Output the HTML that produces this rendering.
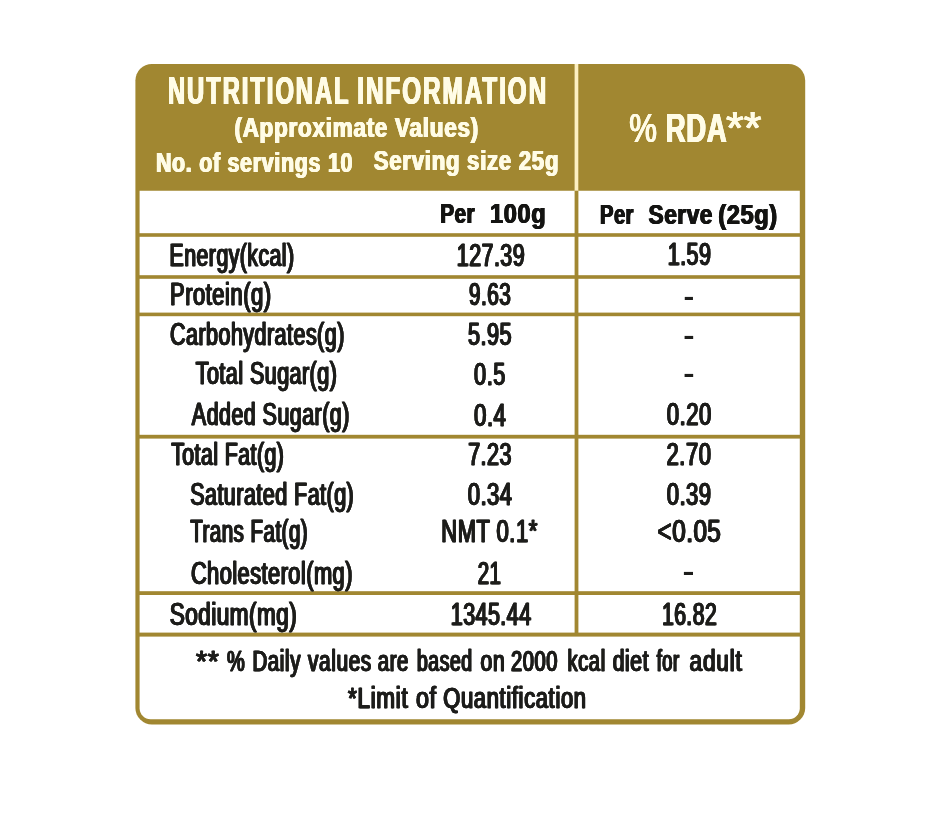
<!DOCTYPE html>
<html lang="en"><head><meta charset="utf-8"><title>Nutritional Information</title>
<style>html,body{margin:0;padding:0;background:#fff}body{width:940px;height:819px;overflow:hidden}svg{display:block}text{font-family:"Liberation Sans",sans-serif;white-space:pre}</style></head><body>
<svg width="940" height="819" viewBox="0 0 940 819">
<rect width="940" height="819" fill="#fff"/>
<g style="filter:blur(0.5px)">
<rect x="135.4" y="64.0" width="669.8" height="660.4" rx="16.5" ry="16.5" fill="#a18731"/>
<path d="M139.6 190.8H799.8V708.2A11 11 0 0 1 788.8 719.2H150.6A11 11 0 0 1 139.6 708.2Z" fill="#fff"/>
<rect x="574.6" y="64.0" width="3.7" height="126.8" fill="#fdf0c2"/>
<rect x="574.6" y="190.8" width="3.8" height="443.7" fill="#a18731"/>
<rect x="138.6" y="233.2" width="662.2" height="3.6" fill="#a18731"/>
<rect x="138.6" y="275.2" width="662.2" height="3.6" fill="#a18731"/>
<rect x="138.6" y="312.6" width="662.2" height="3.6" fill="#a18731"/>
<rect x="138.6" y="434.8" width="662.2" height="3.8" fill="#a18731"/>
<rect x="138.6" y="591.2" width="662.2" height="3.8" fill="#a18731"/>
<rect x="138.6" y="632.6" width="662.2" height="4.0" fill="#a18731"/>
<g fill="#fffce6" font-weight="700" letter-spacing="3.2" style="filter:drop-shadow(0.95px 0 0 #fffce6) drop-shadow(-0.95px 0 0 #fffce6)">
<text id="t1a" x="168.5" y="104.0" font-size="38.37" textLength="182.48" lengthAdjust="spacingAndGlyphs">NUTRITIONAL</text>
<text id="t1b" x="357.7" y="104.0" font-size="38.37" textLength="190.99" lengthAdjust="spacingAndGlyphs">INFORMATION</text>
</g>
<g fill="#fffce6" font-weight="700" letter-spacing="0.9" style="filter:drop-shadow(0.75px 0 0 #fffce6) drop-shadow(-0.75px 0 0 #fffce6)">
<text id="t2" x="234.95" y="137.3" font-size="28.05" textLength="244.43" lengthAdjust="spacingAndGlyphs">(Approximate Values)</text>
<text id="t3" x="156.41" y="172.3" font-size="27.18" textLength="197.22" lengthAdjust="spacingAndGlyphs">No. of servings 10</text>
<text id="t4" x="374.27" y="170.4" font-size="27.47" textLength="185.41" lengthAdjust="spacingAndGlyphs">Serving size 25g</text>
<text id="r2" x="666.3" y="141.8" font-size="41.13" textLength="61.42" lengthAdjust="spacingAndGlyphs">RDA</text>
</g>
<g fill="#fffce6" font-weight="400" style="filter:drop-shadow(0.55px 0 0 #fffce6) drop-shadow(-0.55px 0 0 #fffce6)">
<text id="r1" x="629.81" y="141.8" font-size="41.13" textLength="27.64" lengthAdjust="spacingAndGlyphs">%</text>
<text id="r3" x="726.6" y="143.7" font-size="45.5" textLength="35.4" lengthAdjust="spacingAndGlyphs">**</text>
</g>
<g fill="#141412" font-weight="700" letter-spacing="0.7" style="filter:drop-shadow(0.3px 0 0 #141412) drop-shadow(-0.3px 0 0 #141412)">
<text id="c1a" x="440.65" y="222.8" font-size="27.33" textLength="35.07" lengthAdjust="spacingAndGlyphs">Per</text>
<text id="c1b" x="490.59" y="222.8" font-size="27.33" textLength="56.05" lengthAdjust="spacingAndGlyphs">100g</text>
<text id="c2a" x="600.46" y="223.5" font-size="28.2" textLength="33.95" lengthAdjust="spacingAndGlyphs">Per</text>
<text id="c2b" x="648.94" y="223.5" font-size="28.2" textLength="64.62" lengthAdjust="spacingAndGlyphs">Serve</text>
<text id="c2c" x="718.74" y="223.5" font-size="28.2" textLength="59.44" lengthAdjust="spacingAndGlyphs">(25g)</text>
</g>
<g fill="#1d1d1b" font-weight="400" stroke="#1d1d1b" stroke-width="0.3" letter-spacing="0.7" style="filter:drop-shadow(0.55px 0 0 #1d1d1b) drop-shadow(-0.55px 0 0 #1d1d1b)">
<text id="b1" x="170.11" y="265.6" font-size="30.96" textLength="125.01" lengthAdjust="spacingAndGlyphs">Energy(kcal)</text>
<text id="v1" x="457.28" y="266.0" font-size="30.96" textLength="68.33" lengthAdjust="spacingAndGlyphs">127.39</text>
<text id="w1" x="668.25" y="265.4" font-size="30.96" textLength="43.72" lengthAdjust="spacingAndGlyphs">1.59</text>
<text id="b2" x="170.62" y="305.2" font-size="30.96" textLength="101.37" lengthAdjust="spacingAndGlyphs">Protein(g)</text>
<text id="v2" x="469.57" y="305.4" font-size="30.96" textLength="42.01" lengthAdjust="spacingAndGlyphs">9.63</text>
<text id="b3" x="170.6" y="344.8" font-size="30.96" textLength="174.69" lengthAdjust="spacingAndGlyphs">Carbohydrates(g)</text>
<text id="v3" x="468.46" y="345.2" font-size="30.96" textLength="43.98" lengthAdjust="spacingAndGlyphs">5.95</text>
<text id="b4" x="196.19" y="384.4" font-size="30.96" textLength="141.62" lengthAdjust="spacingAndGlyphs">Total Sugar(g)</text>
<text id="v4" x="474.61" y="385.0" font-size="30.96" textLength="31.55" lengthAdjust="spacingAndGlyphs">0.5</text>
<text id="b5" x="192.37" y="425.2" font-size="30.96" textLength="157.94" lengthAdjust="spacingAndGlyphs">Added Sugar(g)</text>
<text id="v5" x="474.53" y="426.0" font-size="30.96" textLength="32.48" lengthAdjust="spacingAndGlyphs">0.4</text>
<text id="w5" x="667.29" y="425.4" font-size="30.96" textLength="45.08" lengthAdjust="spacingAndGlyphs">0.20</text>
<text id="b6" x="171.71" y="464.6" font-size="30.96" textLength="113.21" lengthAdjust="spacingAndGlyphs">Total Fat(g)</text>
<text id="v6" x="468.67" y="465.2" font-size="30.96" textLength="43.81" lengthAdjust="spacingAndGlyphs">7.23</text>
<text id="w6" x="667.12" y="465.0" font-size="30.96" textLength="44.8" lengthAdjust="spacingAndGlyphs">2.70</text>
<text id="b7" x="190.66" y="504.6" font-size="30.96" textLength="164.1" lengthAdjust="spacingAndGlyphs">Saturated Fat(g)</text>
<text id="v7" x="468.2" y="504.8" font-size="30.96" textLength="44.92" lengthAdjust="spacingAndGlyphs">0.34</text>
<text id="w7" x="667.19" y="504.8" font-size="30.96" textLength="44.92" lengthAdjust="spacingAndGlyphs">0.39</text>
<text id="b8" x="190.76" y="542.0" font-size="30.96" textLength="117.86" lengthAdjust="spacingAndGlyphs">Trans Fat(g)</text>
<text id="v8" x="441.78" y="542.4" font-size="30.96" textLength="96.43" lengthAdjust="spacingAndGlyphs">NMT 0.1*</text>
<text id="w8" x="658.0" y="542.0" font-size="30.96" textLength="63.85" lengthAdjust="spacingAndGlyphs">&lt;0.05</text>
<text id="b9" x="191.38" y="584.0" font-size="30.96" textLength="162.07" lengthAdjust="spacingAndGlyphs">Cholesterol(mg)</text>
<text id="v9" x="478.2" y="584.4" font-size="30.96" textLength="23.57" lengthAdjust="spacingAndGlyphs">21</text>
<text id="b10" x="170.28" y="624.8" font-size="30.96" textLength="127.61" lengthAdjust="spacingAndGlyphs">Sodium(mg)</text>
<text id="v10" x="451.22" y="624.8" font-size="30.96" textLength="80.91" lengthAdjust="spacingAndGlyphs">1345.44</text>
<text id="w10" x="662.41" y="624.8" font-size="30.96" textLength="55.26" lengthAdjust="spacingAndGlyphs">16.82</text>
</g>
<g fill="#1d1d1b" font-weight="700">
<text id="d2" x="683.54" y="304.8" font-size="26.02" textLength="10.77" lengthAdjust="spacingAndGlyphs">-</text>
<text id="d3" x="683.18" y="344.4" font-size="26.02" textLength="11.29" lengthAdjust="spacingAndGlyphs">-</text>
<text id="d4" x="683.18" y="382.0" font-size="26.02" textLength="11.29" lengthAdjust="spacingAndGlyphs">-</text>
<text id="d9" x="682.62" y="579.8" font-size="26.02" textLength="11.96" lengthAdjust="spacingAndGlyphs">-</text>
</g>
<g fill="#1d1d1b" font-weight="400" stroke="#1d1d1b" stroke-width="0.3" letter-spacing="0.9" style="filter:drop-shadow(0.65px 0 0 #1d1d1b) drop-shadow(-0.65px 0 0 #1d1d1b)">
<text id="f1a" x="196.51" y="670.8" font-size="29.07" textLength="23.72" lengthAdjust="spacingAndGlyphs">**</text>
<text id="f1b" x="227.5" y="670.8" font-size="29.07" textLength="18.29" lengthAdjust="spacingAndGlyphs">%</text>
<text id="f1c" x="252.95" y="670.8" font-size="29.07" textLength="48.55" lengthAdjust="spacingAndGlyphs">Daily</text>
<text id="f1d" x="308.54" y="670.8" font-size="29.07" textLength="63.84" lengthAdjust="spacingAndGlyphs">values</text>
<text id="f1e" x="378.26" y="670.8" font-size="29.07" textLength="31.32" lengthAdjust="spacingAndGlyphs">are</text>
<text id="f1f" x="417.51" y="670.8" font-size="29.07" textLength="55.58" lengthAdjust="spacingAndGlyphs">based</text>
<text id="f1g" x="481.02" y="670.8" font-size="29.07" textLength="24.87" lengthAdjust="spacingAndGlyphs">on</text>
<text id="f1h" x="511.57" y="670.8" font-size="29.07" textLength="47.06" lengthAdjust="spacingAndGlyphs">2000</text>
<text id="f1i" x="567.97" y="670.8" font-size="29.07" textLength="38.28" lengthAdjust="spacingAndGlyphs">kcal</text>
<text id="f1j" x="613.13" y="670.8" font-size="29.07" textLength="36.65" lengthAdjust="spacingAndGlyphs">diet</text>
<text id="f1k" x="657.13" y="670.8" font-size="29.07" textLength="22.89" lengthAdjust="spacingAndGlyphs">for</text>
<text id="f1l" x="690.1" y="670.8" font-size="29.07" textLength="52.85" lengthAdjust="spacingAndGlyphs">adult</text>
<text id="f2a" x="348.5" y="707.8" font-size="29.07" textLength="60.47" lengthAdjust="spacingAndGlyphs">*Limit</text>
<text id="f2b" x="416.42" y="707.8" font-size="29.07" textLength="20.74" lengthAdjust="spacingAndGlyphs">of</text>
<text id="f2c" x="443.76" y="707.8" font-size="29.07" textLength="143.39" lengthAdjust="spacingAndGlyphs">Quantification</text>
</g>
</g>
</svg></body></html>
